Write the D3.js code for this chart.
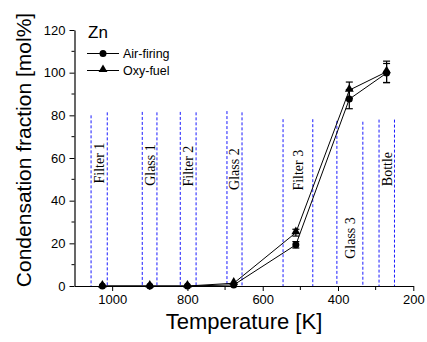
<!DOCTYPE html>
<html>
<head>
<meta charset="utf-8">
<script src="https://cdn.jsdelivr.net/npm/d3@7"></script>
<style>
  body { margin: 0; background: white; }
  svg { display: block; font-family: Arial, 'Liberation Sans', sans-serif; }
</style>
</head>
<body>
<svg id="chart" width="427" height="342"></svg>
<script>
// measured data
const temps = [1026, 900, 800, 677, 512, 370, 271]
const airFiring = [0, 0, 0, 0.5, 19.3, 87.6, 99.8]
const airErr = [0, 0, 0, 0, 1.5, 4.5, 4.5]
const oxyFuel = [0, 0, 0, 1.3, 25.0, 91.8, 100.4]
const oxyErr = [0, 0, 0, 0, 1.6, 3.8, 5]

// sampling zones (dashed boundaries)
const zoneEdges = [1056, 1013, 920, 881, 819, 777, 695, 655, 546, 467, 403, 334, 291, 250]
const zoneTops = [80, 81.4, 81.6, 81.4, 81.6, 81.4, 82, 81.4, 78.2, 78.2, 77.4, 77, 78, 78]
const zoneNames = ['Filter 1', 'Glass 1', 'Filter 2', 'Glass 2', 'Filter 3', 'Glass 3', 'Bottle']
const zoneLabelY = [57.6, 56.7, 56.2, 54.8, 54.3, 22.5, 54.8]

const xTicks = [1000, 800, 600, 400, 200]
const xMinor = [900, 700, 500, 300]
const yTicks = [0, 20, 40, 60, 80, 100, 120]
const yMinor = [10, 30, 50, 70, 90, 110]

const svg = d3.select('#chart')

const x = d3.scaleLinear().domain([1100, 200]).range([74.5, 413.3])
const y = d3.scaleLinear().domain([0, 120]).range([286, 30])

// dashed zone lines
svg.append('g')
  .selectAll('line')
  .data(zoneEdges)
  .join('line')
  .attr('x1', d => x(d))
  .attr('x2', d => x(d))
  .attr('y1', (d, i) => y(zoneTops[i]))
  .attr('y2', y(0))
  .attr('stroke', '#1a1aff')
  .attr('stroke-width', 1)
  .attr('stroke-dasharray', '3,2')

// zone labels
zoneNames.forEach((name, i) => {
  const cx = (x(zoneEdges[2 * i]) + x(zoneEdges[2 * i + 1])) / 2
  const cy = y(zoneLabelY[i])
  svg.append('text')
    .attr('transform', `translate(${cx},${cy}) rotate(-90)`)
    .attr('text-anchor', 'middle')
    .attr('dy', '0.35em')
    .attr('font-family', "'Liberation Serif', 'Times New Roman', serif")
    .attr('font-size', 14)
    .attr('fill', 'black')
    .text(name)
})

// axes
const xAxis = d3.axisBottom(x).tickValues(xTicks).tickFormat(d3.format('d'))
  .tickSize(5).tickSizeOuter(0).tickPadding(4)
const gx = svg.append('g').attr('transform', `translate(0,${y(0)})`).call(xAxis)
gx.append('g').selectAll('line')
  .data(xMinor).join('line')
  .attr('x1', d => x(d)).attr('x2', d => x(d))
  .attr('y1', 0).attr('y2', 4)
  .attr('stroke', 'black')

const yAxis = d3.axisLeft(y).tickValues(yTicks).tickSize(5).tickSizeOuter(0).tickPadding(4)
const gy = svg.append('g').attr('transform', `translate(${x(1100)},0)`).call(yAxis)
gy.append('g').selectAll('line')
  .data(yMinor).join('line')
  .attr('y1', d => y(d)).attr('y2', d => y(d))
  .attr('x1', 0).attr('x2', -3)
  .attr('stroke', 'black')

svg.selectAll('.domain').attr('stroke', 'black').attr('stroke-width', 1.2)
svg.selectAll('.tick text').attr('font-size', 13).attr('fill', 'black')
  .attr('font-family', "Arial, 'Liberation Sans', sans-serif")

// axis titles
svg.append('text')
  .attr('x', 244).attr('y', 329)
  .attr('text-anchor', 'middle')
  .attr('font-size', 22)
  .text('Temperature [K]')

svg.append('text')
  .attr('transform', 'translate(31,150) rotate(-90)')
  .attr('text-anchor', 'middle')
  .attr('font-size', 21)
  .text('Condensation fraction [mol%]')

// series
const line = d3.line().x(d => x(d[0])).y(d => y(d[1]))
const airPts = temps.map((t, i) => [t, airFiring[i], airErr[i]])
const oxyPts = temps.map((t, i) => [t, oxyFuel[i], oxyErr[i]])

const triangle = d3.symbol().type(d3.symbolTriangle).size(34)

function drawSeries (pts, marker) {
  svg.append('path')
    .datum(pts)
    .attr('fill', 'none')
    .attr('stroke', 'black')
    .attr('stroke-width', 1)
    .attr('d', line)

  const err = svg.append('g')
  pts.filter(d => d[2] > 0).forEach(d => {
    const cx = x(d[0])
    err.append('line')
      .attr('x1', cx).attr('x2', cx)
      .attr('y1', y(d[1] - d[2])).attr('y2', y(d[1] + d[2]))
      .attr('stroke', 'black').attr('stroke-width', 1.2)
    ;[d[1] - d[2], d[1] + d[2]].forEach(v => {
      err.append('line')
        .attr('x1', cx - 3.5).attr('x2', cx + 3.5)
        .attr('y1', y(v)).attr('y2', y(v))
        .attr('stroke', 'black').attr('stroke-width', 1.2)
    })
  })

  const g = svg.append('g')
  if (marker === 'circle') {
    g.selectAll('circle').data(pts).join('circle')
      .attr('cx', d => x(d[0])).attr('cy', d => y(d[1]))
      .attr('r', 3.5).attr('fill', 'black')
  } else {
    g.selectAll('path').data(pts).join('path')
      .attr('transform', d => `translate(${x(d[0])},${y(d[1]) - 1})`)
      .attr('d', triangle).attr('fill', 'black')
  }
}

drawSeries(airPts, 'circle')
drawSeries(oxyPts, 'triangle')

// legend
svg.append('text')
  .attr('x', 88).attr('y', 38)
  .attr('font-size', 17)
  .text('Zn')

const legendRows = [
  { label: 'Air-firing', marker: 'circle', y: 53.5 },
  { label: 'Oxy-fuel', marker: 'triangle', y: 70.5 }
]
legendRows.forEach(r => {
  svg.append('line')
    .attr('x1', 87).attr('x2', 119)
    .attr('y1', r.y).attr('y2', r.y)
    .attr('stroke', 'black')
  if (r.marker === 'circle') {
    svg.append('circle').attr('cx', 103).attr('cy', r.y).attr('r', 3.5).attr('fill', 'black')
  } else {
    svg.append('path').attr('transform', `translate(103,${r.y - 1})`).attr('d', triangle).attr('fill', 'black')
  }
  svg.append('text')
    .attr('x', 123).attr('y', r.y + 4.3)
    .attr('font-size', 12.5)
    .text(r.label)
})
</script>
</body>
</html>
